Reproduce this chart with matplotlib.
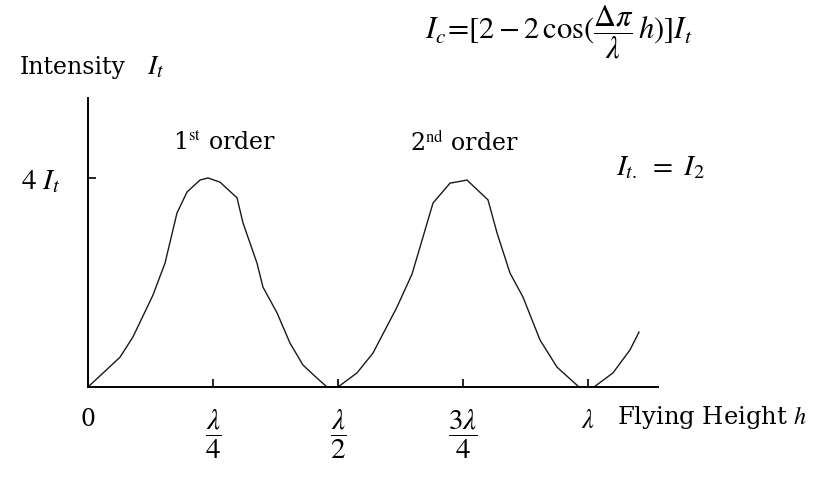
import matplotlib.pyplot as plt

# intensity curve vs flying height (h in units of lambda, I in units of I_t)
h_vals = [0.0, 0.064, 0.09, 0.13, 0.154, 0.178, 0.198, 0.224, 0.24, 0.264,
          0.298, 0.31, 0.338, 0.35, 0.378, 0.404, 0.43, 0.458, 0.478, 0.50,
          0.538, 0.57, 0.618, 0.648, 0.67, 0.69, 0.724, 0.758, 0.80, 0.818,
          0.844, 0.87, 0.904, 0.938, 0.982, 1.012, 1.05, 1.084, 1.102]
i_vals = [0.0, 0.57, 0.96, 1.76, 2.37, 3.33, 3.73, 3.96, 4.0, 3.92,
          3.62, 3.14, 2.37, 1.91, 1.42, 0.84, 0.42, 0.17, 0.0, 0.0,
          0.27, 0.65, 1.53, 2.16, 2.87, 3.52, 3.90, 3.96, 3.58, 2.95,
          2.18, 1.72, 0.90, 0.38, 0.0, 0.0, 0.27, 0.71, 1.05]

x_ticks = [0.0, 0.25, 0.5, 0.75, 1.0]
x_labels = ['0', r'$\dfrac{\lambda}{4}$', r'$\dfrac{\lambda}{2}$', r'$\dfrac{3\lambda}{4}$', r'$\lambda$']
y_ticks = [4.0]
y_labels = [r'$4\ I_t$']
order_labels = ['1$^{\\rm st}$ order', '2$^{\\rm nd}$ order']
order_pos = [0.274, 0.752]

plt.rcParams['font.family'] = ['DejaVu Serif']
plt.rcParams['mathtext.fontset'] = 'stix'

W, H = 820, 484
fig = plt.figure(figsize=(W / 100, H / 100), dpi=100)
ax = fig.add_axes([88 / W, (H - 387) / H, (658 - 88) / W, (387 - 98) / H])

ax.plot(h_vals, i_vals, color='#1a1a1a', lw=1.0)

ax.set_xlim(0, 1.14)
ax.set_ylim(0, 5.53)
for side in ('top', 'right'):
    ax.spines[side].set_visible(False)
for side in ('left', 'bottom'):
    ax.spines[side].set_linewidth(1.4)

ax.set_xticks(x_ticks)
ax.set_xticklabels(x_labels, fontsize=21)
ax.set_yticks(y_ticks)
ax.set_yticklabels(y_labels, fontsize=21)
ax.tick_params(axis='x', direction='in', length=6, width=1.2, pad=15)
ax.tick_params(axis='y', direction='in', length=6, width=1.2, pad=20)

# plain "0" and the bare lambda are set smaller than the stacked fractions
xtl = ax.get_xticklabels()
xtl[0].set_fontsize(17)
xtl[-1].set_fontsize(19)

for hx, label in zip(order_pos, order_labels):
    ax.text(hx, 4.67, label, ha='center', va='center', fontsize=17)

ax.text(1.056, 4.2, r'$I_{t.}\ =\ I_2$', ha='left', va='center', fontsize=21)
ax.text(1.058, -0.59, 'Flying Height $h$', ha='left', va='center', fontsize=17.5, clip_on=False)
ax.text(-0.136, 6.12, 'Intensity', ha='left', va='center', fontsize=17, clip_on=False)
ax.text(0.118, 6.12, r'$I_t$', ha='left', va='center', fontsize=20, clip_on=False)
ax.text(0.674, 6.79, r'$I_c\!=\![2-2\,\cos(\dfrac{\Delta\pi}{\lambda}\,h)]I_t$',
        ha='left', va='center', fontsize=22, clip_on=False)

fig.savefig('out.png', dpi=100)
